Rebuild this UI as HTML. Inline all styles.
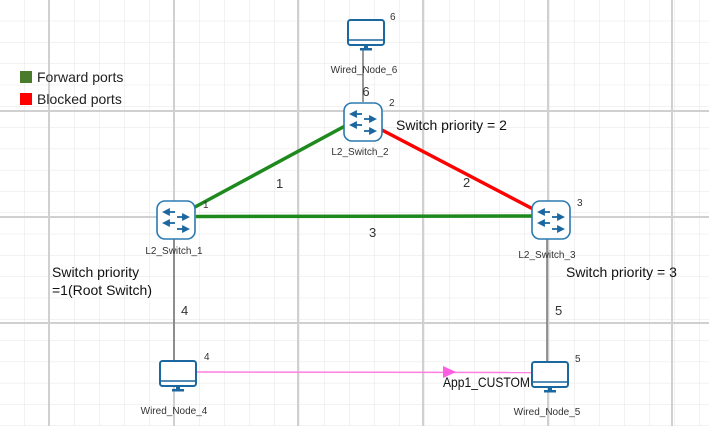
<!DOCTYPE html>
<html><head><meta charset="utf-8"><style>
html,body{margin:0;padding:0;background:#fff;}
svg{display:block;font-family:"Liberation Sans",sans-serif;}
</style></head><body>
<svg width="709" height="426" viewBox="0 0 709 426" xmlns="http://www.w3.org/2000/svg">
<defs>
<pattern id="minor" x="-1" y="-0.5" width="25" height="21.3" patternUnits="userSpaceOnUse">
<path d="M0 0V21.3M0 0H25" stroke="#e6e6e6" stroke-width="1" fill="none"/>
</pattern>
<g id="sw">
<rect x="-19" y="-19" width="38" height="38" rx="8" fill="#fff" stroke="#2a7ab0" stroke-width="1.6"/>
<g stroke="#1b67a0" stroke-width="1.8" fill="#1b67a0">
<line x1="-9" y1="-8" x2="-1" y2="-8"/><polygon points="-12,-8 -7,-10.5 -7,-5.5"/>
<line x1="1" y1="-3" x2="9" y2="-3"/><polygon points="12,-3 7,-5.5 7,-0.5"/>
<line x1="-9" y1="3" x2="-1" y2="3"/><polygon points="-12,3 -7,0.5 -7,5.5"/>
<line x1="1" y1="9" x2="9" y2="9"/><polygon points="12,9 7,6.5 7,11.5"/>
</g>
</g>
<g id="pc">
<rect x="-18" y="-13" width="36" height="25" rx="2.5" fill="#fff" stroke="#1b67a0" stroke-width="2"/>
<line x1="-17" y1="7" x2="17" y2="7" stroke="#1b67a0" stroke-width="1.5"/>
<rect x="-2" y="12" width="4" height="3" fill="#1b67a0"/>
<rect x="-6" y="15" width="12" height="2.5" fill="#1b67a0"/>
</g>
</defs>
<rect width="709" height="426" fill="url(#minor)"/>
<g stroke="#d0d0d0" stroke-width="2">
<line x1="49" y1="0" x2="49" y2="426"/><line x1="174" y1="0" x2="174" y2="426"/>
<line x1="298" y1="0" x2="298" y2="426"/><line x1="423" y1="0" x2="423" y2="426"/>
<line x1="548" y1="0" x2="548" y2="426"/><line x1="672" y1="0" x2="672" y2="426"/>
<line x1="0" y1="111" x2="709" y2="111"/><line x1="0" y1="217" x2="709" y2="217"/>
<line x1="0" y1="323" x2="709" y2="323"/>
</g>
<rect x="20" y="71" width="12" height="12" fill="#4a7a2c"/>
<text x="37" y="82" font-size="14" fill="#222">Forward ports</text>
<rect x="20" y="93" width="12" height="12" fill="#f00"/>
<text x="37" y="104" font-size="14" fill="#222">Blocked ports</text>
<g stroke="#777" stroke-width="1.5">
<line x1="363" y1="50" x2="363" y2="102"/>
<line x1="174" y1="239" x2="174" y2="362"/>
<line x1="547" y1="239" x2="547" y2="362"/>
</g>
<line x1="195" y1="207" x2="345" y2="126" stroke="#1e8a1e" stroke-width="3.5"/>
<line x1="196" y1="216.5" x2="532" y2="216" stroke="#1e8a1e" stroke-width="3.5"/>
<line x1="382" y1="130" x2="533" y2="209" stroke="#f00" stroke-width="3.5"/>
<line x1="197" y1="372" x2="532" y2="372.5" stroke="#ff80e0" stroke-width="1.5"/>
<polygon points="443,366 456,372 443,378" fill="#ff5ee0"/>
<use href="#sw" x="176" y="220"/>
<use href="#sw" x="363" y="122"/>
<use href="#sw" x="551" y="220"/>
<use href="#pc" x="366" y="33"/>
<use href="#pc" x="178" y="374"/>
<use href="#pc" x="550" y="375"/>
<g font-size="10" fill="#333">
<text x="364" y="73" text-anchor="middle">Wired_Node_6</text>
<text x="390" y="20">6</text>
<text x="360" y="155" text-anchor="middle">L2_Switch_2</text>
<text x="389" y="106">2</text>
<text x="174" y="254" text-anchor="middle">L2_Switch_1</text>
<text x="203" y="208">1</text>
<text x="547" y="258" text-anchor="middle">L2_Switch_3</text>
<text x="577" y="206">3</text>
<text x="174" y="414" text-anchor="middle">Wired_Node_4</text>
<text x="204" y="360">4</text>
<text x="547" y="415" text-anchor="middle">Wired_Node_5</text>
<text x="575" y="362">5</text>
</g>
<g font-size="13" fill="#333">
<text x="366" y="96" text-anchor="middle">6</text>
<text x="276" y="188">1</text>
<text x="463" y="187">2</text>
<text x="369" y="237">3</text>
<text x="181" y="315">4</text>
<text x="555" y="315">5</text>
</g>
<g font-size="14" fill="#111">
<text x="396" y="130">Switch priority = 2</text>
<text x="566" y="277">Switch priority = 3</text>
<text x="52" y="277">Switch priority</text>
<text x="52" y="295">=1(Root Switch)</text>
<text x="443" y="387" textLength="87" lengthAdjust="spacingAndGlyphs">App1_CUSTOM</text>
</g>
</svg>
</body></html>
